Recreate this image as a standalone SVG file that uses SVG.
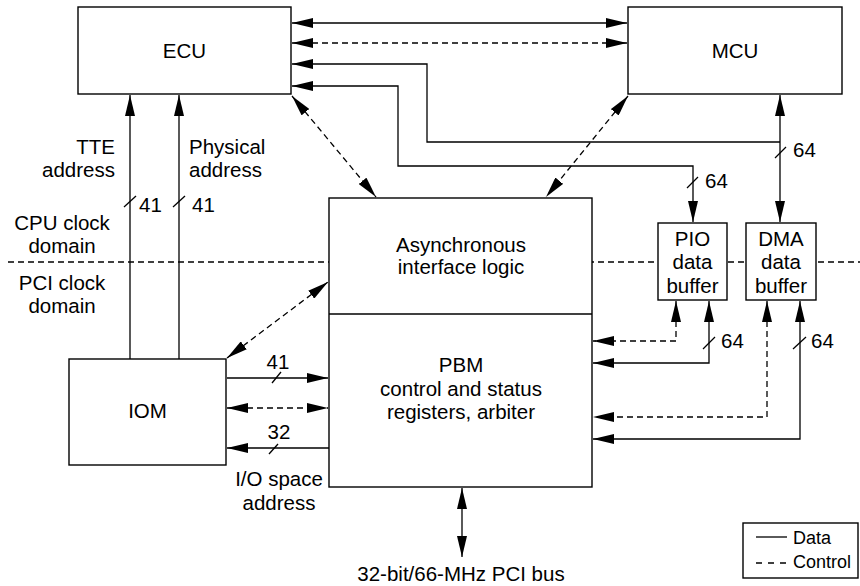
<svg xmlns="http://www.w3.org/2000/svg" width="860" height="586" viewBox="0 0 860 586">
<style>
.box{fill:#fff;stroke:#000;stroke-width:1.4}
.ln{fill:none;stroke:#000;stroke-width:1.3}
.ds{fill:none;stroke:#000;stroke-width:1.3;stroke-dasharray:6 4}
.a2{marker-start:url(#ah);marker-end:url(#ah)}
.a1{marker-end:url(#ah)}
text{font-family:"Liberation Sans",Arial,Helvetica,sans-serif;font-size:20.5px;fill:#000}
.c{text-anchor:middle}
.r{text-anchor:end}
.lg{font-size:18px}
</style>
<defs>
<marker id="ah" viewBox="0 0 21 10" refX="21" refY="5" markerWidth="21" markerHeight="10" markerUnits="userSpaceOnUse" orient="auto-start-reverse"><path d="M0,0 L21,5 L0,10 z" fill="#000"/></marker>
</defs>
<rect width="860" height="586" fill="#fff"/>
<g id="domain-line"><line x1="8" y1="262" x2="860" y2="262" class="ds"/></g>
<g id="connectors">
<path class="ln a2" d="M292,23 H627"/>
<path class="ds a2" d="M292,43 H627"/>
<path class="ln a1" d="M780,142 H427 V64 H292"/>
<path class="ln a2" d="M693,222 V166 H398 V86 H292"/>
<path class="ln a2" d="M780,95 V222"/>
<path class="ds a2" d="M292,96 L376,197"/>
<path class="ds a2" d="M628,96 L546,197"/>
<path class="ln a1" d="M130,359 V95"/>
<path class="ln a1" d="M179,359 V95"/>
<path class="ds a2" d="M227,358 L328,282"/>
<path class="ln a1" d="M227,378 H328"/>
<path class="ds a2" d="M227,408 H328"/>
<path class="ln a1" d="M329,448 H227"/>
<path class="ds a2" d="M676,301 V341 H593"/>
<path class="ln a2" d="M709,301 V363 H593"/>
<path class="ds a2" d="M767,301 V417 H593"/>
<path class="ln a2" d="M800,301 V439 H593"/>
<path class="ln a2" d="M462,488 V557"/>
<g class="ln">
<line x1="124" y1="207" x2="136" y2="196"/>
<line x1="173" y1="207" x2="185" y2="196"/>
<line x1="775" y1="158" x2="786" y2="147"/>
<line x1="687" y1="188" x2="698" y2="177"/>
<line x1="703" y1="349" x2="715" y2="337"/>
<line x1="793" y1="349" x2="806" y2="337"/>
<line x1="272" y1="383" x2="281" y2="372"/>
<line x1="269" y1="454" x2="278" y2="444"/>
</g>
<text x="139" y="212">41</text>
<text x="192" y="212">41</text>
<text x="793" y="157">64</text>
<text x="705" y="188">64</text>
<text x="721" y="348">64</text>
<text x="811" y="348">64</text>
<text class="c" x="278" y="369">41</text>
<text class="c" x="279" y="439">32</text>
<text class="r" x="115" y="154">TTE</text>
<text class="r" x="115" y="177">address</text>
<text x="189" y="154">Physical</text>
<text x="189" y="177">address</text>
<text class="c" x="279" y="486">I/O space</text>
<text class="c" x="279" y="510">address</text>
<text class="c" x="461" y="581">32-bit/66-MHz PCI bus</text>
</g>
<g id="domain-labels">
<text class="c" x="62" y="230">CPU clock</text>
<text class="c" x="62" y="253">domain</text>
<text class="c" x="62" y="290">PCI clock</text>
<text class="c" x="62" y="313">domain</text>
</g>
<g id="ECU"><rect class="box" x="78" y="7" width="213" height="87"/><text class="c" x="184.5" y="57.5">ECU</text></g>
<g id="MCU"><rect class="box" x="628" y="7" width="214" height="87"/><text class="c" x="735" y="57.5">MCU</text></g>
<g id="PBM">
<rect class="box" x="329" y="198" width="263" height="289"/>
<line class="ln" x1="329" y1="314" x2="592" y2="314"/>
<text class="c" x="461" y="252">Asynchronous</text>
<text class="c" x="461" y="274">interface logic</text>
<text class="c" x="461" y="372">PBM</text>
<text class="c" x="461" y="396">control and status</text>
<text class="c" x="461" y="419">registers, arbiter</text>
</g>
<g id="PIO"><rect class="box" x="658" y="223" width="69" height="77"/>
<text class="c" x="692.5" y="246">PIO</text><text class="c" x="692.5" y="269">data</text><text class="c" x="692.5" y="293">buffer</text></g>
<g id="DMA"><rect class="box" x="746" y="223" width="70" height="77"/>
<text class="c" x="781" y="246">DMA</text><text class="c" x="781" y="269">data</text><text class="c" x="781" y="293">buffer</text></g>
<g id="IOM"><rect class="box" x="69" y="359" width="157" height="106"/><text class="c" x="147.5" y="418">IOM</text></g>
<g id="legend">
<rect class="box" x="743" y="523" width="115" height="55"/>
<line class="ln" x1="756" y1="537" x2="787" y2="537"/>
<line class="ln" x1="756" y1="563" x2="787" y2="563" style="stroke-dasharray:6 6"/>
<text class="lg" x="793" y="544">Data</text>
<text class="lg" x="793" y="568">Control</text>
</g>
</svg>
